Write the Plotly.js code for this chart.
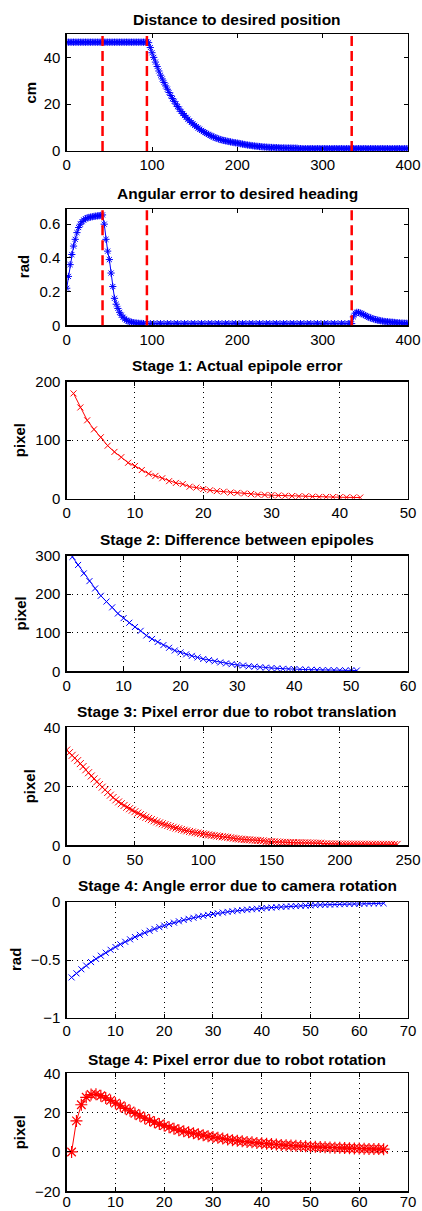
<!DOCTYPE html>
<html>
<head>
<meta charset="utf-8">
<script src="https://cdn.plot.ly/plotly-3.0.1.min.js"></script>
<style>html,body{margin:0;padding:0;background:#fff;}#chart{width:422px;height:1211px;}</style>
</head>
<body>
<div id="chart"></div>
<script>
// ---------- DATA ----------
var stageBoundaries = [42, 94, 334];

var distX = [
0,2,4,6,8,10,12,14,16,18,
20,22,24,26,28,30,32,34,36,38,
40,42,44,46,48,50,52,54,56,58,
60,62,64,66,68,70,72,74,76,78,
80,82,84,86,88,90,92,94,96,98,
100,102,104,106,108,110,112,114,116,118,
120,122,124,126,128,130,132,134,136,138,
140,142,144,146,148,150,152,154,156,158,
160,162,164,166,168,170,172,174,176,178,
180,182,184,186,188,190,192,194,196,198,
200,202,204,206,208,210,212,214,216,218,
220,222,224,226,228,230,232,234,236,238,
240,242,244,246,248,250,252,254,256,258,
260,262,264,266,268,270,272,274,276,278,
280,282,284,286,288,290,292,294,296,298,
300,302,304,306,308,310,312,314,316,318,
320,322,324,326,328,330,332,334,336,338,
340,342,344,346,348,350,352,354,356,358,
360,362,364,366,368,370,372,374,376,378,
380,382,384,386,388,390,392,394,396,398,
400];
var distY = [
46.5,46.5,46.5,46.5,46.5,46.5,46.5,46.5,46.5,46.5,
46.5,46.5,46.5,46.5,46.5,46.5,46.5,46.5,46.5,46.5,
46.5,46.5,46.5,46.5,46.5,46.5,46.5,46.5,46.5,46.5,
46.5,46.5,46.5,46.5,46.5,46.5,46.5,46.5,46.5,46.5,
46.5,46.5,46.5,46.5,46.5,46.5,46.5,46.5,46.3,44.2,
42.0,40.0,38.0,36.1,34.2,32.4,30.8,29.3,27.8,26.4,
25.0,23.7,22.4,21.2,20.1,19.0,17.9,16.9,16.0,15.2,
14.4,13.6,12.9,12.2,11.6,11.0,10.4,9.8,9.3,8.8,
8.3,7.9,7.5,7.1,6.7,6.35,6.0,5.7,5.4,5.15,
4.9,4.7,4.5,4.35,4.2,4.05,3.9,3.75,3.6,3.5,
3.4,3.25,3.1,2.95,2.8,2.7,2.55,2.45,2.35,2.25,
2.15,2.05,2.0,1.9,1.85,1.75,1.7,1.65,1.6,1.55,
1.5,1.5,1.45,1.45,1.4,1.35,1.3,1.3,1.3,1.25,
1.25,1.25,1.25,1.2,1.2,1.2,1.05,1.0,1.0,1.0,
1.0,1.0,1.0,1.0,1.0,1.0,1.0,1.0,1.0,1.0,
1.0,1.0,1.0,1.0,1.0,1.0,1.0,1.0,1.0,1.0,
1.0,1.0,1.0,1.0,1.0,1.0,1.0,1.0,1.0,1.0,
1.0,1.0,1.0,1.0,1.0,1.0,1.0,1.0,1.0,1.0,
1.0,1.0,1.0,1.0,1.0,1.0,1.0,1.0,1.0,1.0,
1.0,1.0,1.0,1.0,1.0,1.0,1.0,1.0,1.0,1.0,
1.0];

var angX = [0,2,4,6,8,10,12,14,16,18,20,22,24,26,28,30,32,34,36,38,40,42,44,46,48,50,52,54,56,58,60,62,64,66,68,70,72,74,76,78,80,82,84,86,88,90,94,98,102,106,110,114,118,122,126,130,134,138,142,146,150,154,158,162,166,170,174,178,182,186,190,194,198,202,206,210,214,218,222,226,230,234,238,242,246,250,254,258,262,266,270,274,278,282,286,290,294,298,302,306,310,314,318,322,326,330,332,334,336,338,340,342,344,346,348,350,352,354,356,358,360,362,364,366,368,370,372,374,376,378,380,382,384,386,388,390,392,394,396,398,400];
var angY = [0.22,0.29,0.36,0.42,0.47,0.51,0.55,0.58,0.60,0.615,0.625,0.632,0.637,0.64,0.642,0.644,0.646,0.648,0.649,0.65,0.652,0.655,0.60,0.51,0.44,0.39,0.31,0.23,0.16,0.125,0.10,0.077,0.06,0.048,0.038,0.03,0.025,0.021,0.018,0.016,0.014,0.013,0.012,0.011,0.011,0.01,0.01,0.01,0.01,0.01,0.01,0.01,0.01,0.01,0.01,0.01,0.01,0.01,0.01,0.01,0.01,0.01,0.01,0.01,0.01,0.01,0.01,0.01,0.01,0.01,0.01,0.01,0.01,0.01,0.01,0.01,0.01,0.01,0.01,0.01,0.01,0.01,0.01,0.01,0.01,0.01,0.01,0.01,0.01,0.01,0.01,0.01,0.01,0.01,0.01,0.01,0.01,0.01,0.01,0.01,0.01,0.01,0.01,0.01,0.01,0.01,0.01,0.01,0.05,0.072,0.077,0.076,0.073,0.068,0.063,0.058,0.053,0.048,0.044,0.04,0.037,0.034,0.031,0.029,0.027,0.025,0.023,0.022,0.021,0.02,0.019,0.018,0.017,0.016,0.015,0.014,0.013,0.013,0.012,0.012,0.011];

var s1X = [1,2,3,4,5,6,7,8,9,10,11,12,13,14,15,16,17,18,19,20,21,22,23,24,25,26,27,28,29,30,31,32,33,34,35,36,37,38,39,40,41,42,43];
var s1Y = [180,156,134,118.5,105,90.6,80,71,61.5,56,49,42.7,39,35,30,27,25,20.5,19,16.5,14.5,13,12,10.5,10,9,8,7,6.5,6,5.5,5,4.5,4,4,3.5,3,3,2.8,2.5,2.3,2,2];

var s2X = [1,2,3,4,5,6,7,8,9,10,11,12,13,14,15,16,17,18,19,20,21,22,23,24,25,26,27,28,29,30,31,32,33,34,35,36,37,38,39,40,41,42,43,44,45,46,47,48,49,50,51];
var s2Y = [297,276,254,234,215,196,181,166,150,138,126,115,105,93,84,76,68,61,54,49,44,40,36,32,29,26,23,20.5,18.5,16.5,15,13,12,10.5,9.5,8.5,7.5,6.5,6,5.5,5,4.5,4,3.5,3.3,3,2.8,2.5,2.3,2.1,2];

var s3X = [
0,2,4,6,8,10,12,14,16,18,
20,22,24,26,28,30,32,34,36,38,
40,42,44,46,48,50,52,54,56,58,
60,62,64,66,68,70,72,74,76,78,
80,82,84,86,88,90,92,94,96,98,
100,102,104,106,108,110,112,114,116,118,
120,122,124,126,128,130,132,134,136,138,
140,142,144,146,148,150,152,154,156,158,
160,162,164,166,168,170,172,174,176,178,
180,182,184,186,188,190,192,194,196,198,
200,202,204,206,208,210,212,214,216,218,
220,222,224,226,228,230,232,234,236,238,
240,242];
var s3Y = [
32.3,31.4,30.5,29.6,28.7,27.7,26.7,25.6,24.6,23.5,
22.5,21.5,20.6,19.7,18.8,17.9,17.0,16.2,15.4,14.7,
14.1,13.5,12.9,12.4,11.9,11.4,10.9,10.4,9.95,9.5,
9.1,8.7,8.3,7.95,7.6,7.3,7.0,6.7,6.4,6.1,
5.85,5.6,5.35,5.1,4.9,4.7,4.5,4.3,4.15,4.0,
3.85,3.7,3.55,3.4,3.3,3.15,3.0,2.9,2.8,2.7,
2.55,2.4,2.25,2.15,2.05,1.95,1.9,1.85,1.75,1.7,
1.65,1.6,1.5,1.25,1.2,1.2,1.15,1.1,1.05,1.0,
1.0,0.95,0.9,0.9,0.85,0.85,0.8,0.8,0.8,0.75,
0.75,0.7,0.7,0.7,0.45,0.45,0.42,0.42,0.4,0.4,
0.4,0.38,0.38,0.38,0.36,0.36,0.36,0.35,0.35,0.35,
0.34,0.34,0.33,0.33,0.33,0.32,0.32,0.31,0.31,0.3,
0.3,0.3];

var s4aX = [1,2,3,4,5,6,7,8,9,10,11,12,13,14,15,16,17,18,19,20,21,22,23,24,25,26,27,28,29,30,31,32,33,34,35,36,37,38,39,40,41,42,43,44,45,46,47,48,49,50,51,52,53,54,55,56,57,58,59,60,61,62,63,64,65];
var s4aY = [-0.65,-0.615,-0.58,-0.548,-0.518,-0.49,-0.463,-0.437,-0.412,-0.388,-0.365,-0.343,-0.322,-0.302,-0.283,-0.265,-0.248,-0.232,-0.217,-0.203,-0.19,-0.178,-0.166,-0.155,-0.145,-0.136,-0.127,-0.119,-0.111,-0.104,-0.097,-0.091,-0.085,-0.08,-0.075,-0.07,-0.066,-0.062,-0.058,-0.055,-0.051,-0.048,-0.045,-0.042,-0.04,-0.037,-0.035,-0.033,-0.031,-0.029,-0.027,-0.025,-0.024,-0.022,-0.021,-0.019,-0.018,-0.017,-0.016,-0.015,-0.014,-0.013,-0.012,-0.012,-0.011];

var s4pX = [1,2,3,4,5,6,7,8,9,10,11,12,13,14,15,16,17,18,19,20,21,22,23,24,25,26,27,28,29,30,31,32,33,34,35,36,37,38,39,40,41,42,43,44,45,46,47,48,49,50,51,52,53,54,55,56,57,58,59,60,61,62,63,64,65];
var s4pY = [0,15.8,24,27.8,29.2,29.4,28.6,27.5,26.2,24.8,23.5,22.2,20.9,19.6,18.4,17.2,16.1,15.1,14.2,13.4,12.6,11.8,11.1,10.5,10.0,9.5,9.0,8.5,8.0,7.6,7.2,6.8,6.4,6.0,5.7,5.4,5.1,4.9,4.6,4.4,4.2,4.0,3.8,3.6,3.4,3.3,3.1,3.0,2.85,2.7,2.6,2.5,2.4,2.3,2.2,2.1,2.0,1.9,1.8,1.7,1.65,1.55,1.5,1.45,1.4];

var titles = ["Distance to desired position","Angular error to desired heading","Stage 1: Actual epipole error","Stage 2: Difference between epipoles","Stage 3: Pixel error due to robot translation","Stage 4: Angle error due to camera rotation","Stage 4: Pixel error due to robot rotation"];
var yTitles = ["cm","rad","pixel","pixel","pixel","rad","pixel"];

// ---------- LAYOUT CONSTANTS ----------
var W = 422, H = 1211;
var xL = 66.7, xR = 408;
var boxes = [[34,151],[209,325.3],[381.7,498.7],[555.7,671.3],[727.3,845.3],[902,1018],[1073.3,1191.3]];
var titleY = [19.3,193.3,365.7,539,711.7,885.7,1059];
var yTitleX = [30,23,19,20,29,15,19];
var xRanges = [[0,400],[0,400],[0,50],[0,60],[0,250],[0,70],[0,70]];
var xD = [100,100,10,10,50,10,10];
var yRanges = [[0,50],[0,0.69],[0,200],[0,300],[0,40],[-1,0],[-20,40]];
var yD = [20,0.2,100,100,20,0.5,20];
var grids = [false,false,true,true,true,true,true];
var xLabelShift = [0,0,0,0,0,-1,-4];

var BLUE = '#0000ff', RED = '#ff0000';
var FONT = 'Liberation Sans, Arial, Helvetica, sans-serif';

var series = [
  {x: distX, y: distY, c: BLUE, sym: 'asterisk-open', sz: 6, mw: 1},
  {x: angX, y: angY, c: BLUE, sym: 'asterisk-open', sz: 6, mw: 1},
  {x: s1X, y: s1Y, c: RED, sym: 'x-thin-open', sz: 6, mw: 1},
  {x: s2X, y: s2Y, c: BLUE, sym: 'x-thin-open', sz: 6, mw: 1},
  {x: s3X, y: s3Y, c: RED, sym: 'x-thin-open', sz: 7, mw: 1},
  {x: s4aX, y: s4aY, c: BLUE, sym: 'x-thin-open', sz: 6, mw: 1},
  {x: s4pX, y: s4pY, c: RED, sym: 'asterisk-open', sz: 10, mw: 1.2}
];

var data = [];
var layout = {
  width: W, height: H,
  margin: {l:0, r:0, t:0, b:0},
  paper_bgcolor: '#fff', plot_bgcolor: '#fff',
  showlegend: false,
  font: {family: FONT, size: 15, color: '#000'},
  annotations: [], shapes: []
};

for (var i = 0; i < 7; i++) {
  var sfx = i === 0 ? '' : String(i + 1);
  var s = series[i];
  data.push({
    type: 'scatter', mode: 'lines+markers',
    x: s.x, y: s.y,
    xaxis: 'x' + sfx, yaxis: 'y' + sfx,
    line: {color: s.c, width: 1},
    marker: {symbol: s.sym, size: s.sz, color: s.c, line: {color: s.c, width: s.mw}},
    cliponaxis: true
  });
  var common = {
    showline: true, linecolor: '#000', linewidth: 1.3, mirror: 'ticks',
    ticks: 'inside', ticklen: 4, tickcolor: '#000', tickwidth: 1,
    showgrid: grids[i], gridcolor: '#000', griddash: '1px,4px', gridwidth: 1,
    zeroline: false, tickfont: {family: FONT, size: 15, color: '#000'}, tick0: 0
  };
  var ax = Object.assign({}, common, {
    domain: [xL / W, xR / W], range: xRanges[i], dtick: xD[i], anchor: 'y' + sfx,
    ticklabelstandoff: xLabelShift[i]
  });
  var ay = Object.assign({}, common, {
    domain: [1 - boxes[i][1] / H, 1 - boxes[i][0] / H], range: yRanges[i], dtick: yD[i],
    anchor: 'x' + sfx, ticklabelstandoff: 2
  });
  layout['xaxis' + sfx] = ax;
  layout['yaxis' + sfx] = ay;
  layout.annotations.push({
    xref: 'paper', yref: 'paper', x: (xL + xR) / 2 / W, y: 1 - titleY[i] / H,
    xanchor: 'center', yanchor: 'middle', showarrow: false,
    text: titles[i], font: {family: FONT, size: 15.5, weight: 'bold', color: '#000'}
  });
  layout.annotations.push({
    xref: 'paper', yref: 'paper', x: yTitleX[i] / W, y: 1 - (boxes[i][0] + boxes[i][1]) / 2 / H,
    xanchor: 'center', yanchor: 'middle', showarrow: false, textangle: -90,
    text: yTitles[i], font: {family: FONT, size: 15, weight: 'bold', color: '#000'}
  });
}

// stage boundary dashed lines on first two panels
for (var p = 0; p < 2; p++) {
  var sx = p === 0 ? '' : '2';
  for (var k = 0; k < stageBoundaries.length; k++) {
    layout.shapes.push({
      type: 'line', xref: 'x' + sx, yref: 'y' + sx + ' domain',
      x0: stageBoundaries[k], x1: stageBoundaries[k], y0: 0, y1: 1,
      line: {color: RED, width: 2.5, dash: '10px,5px'}
    });
  }
}

Plotly.newPlot('chart', data, layout, {staticPlot: true, displayModeBar: false});
</script>
</body>
</html>
